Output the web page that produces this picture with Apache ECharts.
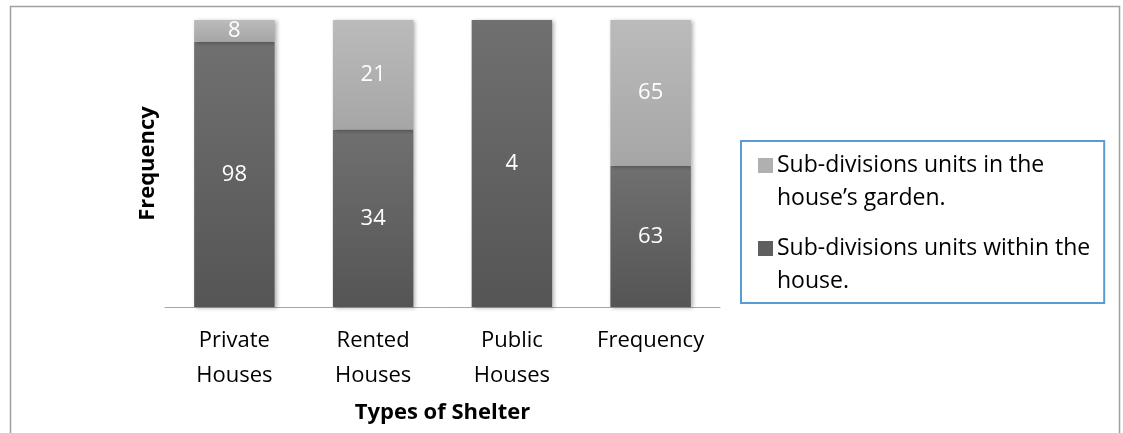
<!DOCTYPE html>
<html>
<head>
<meta charset="utf-8">
<script src="https://cdn.jsdelivr.net/npm/echarts@6/dist/echarts.min.js"></script>
<style>
  html, body { margin: 0; padding: 0; background: #fff; }
  #chart { width: 1123px; height: 433px; }
</style>
</head>
<body>
<div id="chart"></div>
<script>
const categories = ['Private\nHouses', 'Rented\nHouses', 'Public\nHouses', 'Frequency'];
const gardenName = 'Sub-divisions units in the house’s garden.';
const withinName = 'Sub-divisions units within the house.';
const gardenValues = [8, 21, 0, 65];
const withinValues = [98, 34, 4, 63];
const legendLines = {
  [gardenName]: ['Sub-divisions units in the', 'house’s garden.'],
  [withinName]: ['Sub-divisions units within the', 'house.']
};

// 100% stacked: share of each bar
const totals = withinValues.map((v, i) => v + gardenValues[i]);
const withinPct = withinValues.map((v, i) => v / totals[i] * 100);
const gardenPct = gardenValues.map((v, i) => v / totals[i] * 100);

const font = 'Open Sans';
const fs = 22;
const darkFill = new echarts.graphic.LinearGradient(0, 0, 0, 1, [
  { offset: 0, color: '#707070' },
  { offset: 1, color: '#555555' }
]);
const lightFill = new echarts.graphic.LinearGradient(0, 0, 0, 1, [
  { offset: 0, color: '#bbbbbb' },
  { offset: 1, color: '#a6a6a6' }
]);

const chart = echarts.init(document.getElementById('chart'));

const barLabel = raw => ({
  show: true,
  position: 'inside',
  color: '#fff',
  fontFamily: font,
  fontSize: fs,
  formatter: p => raw[p.dataIndex] ? String(raw[p.dataIndex]) : ''
});

const shadow = {
  shadowBlur: 4,
  shadowOffsetX: 2,
  shadowOffsetY: 1,
  shadowColor: 'rgba(0,0,0,0.3)'
};

chart.setOption({
  animation: false,
  textStyle: { fontFamily: font },
  grid: { left: 165, right: 403, top: 20, bottom: 126 },
  graphic: [{
    type: 'polyline',
    shape: { points: [[10.5, 433], [10.5, 6.5], [1119.5, 6.5], [1119.5, 433]] },
    style: { stroke: '#a0a0a0', lineWidth: 1.5, fill: null }
  }],
  legend: {
    orient: 'vertical',
    left: 741,
    top: 141,
    padding: [13, 14, 10, 12],
    itemGap: 27,
    itemWidth: 0,
    itemHeight: 15,
    borderColor: '#5b9bd5',
    borderWidth: 2,
    data: [gardenName, withinName],
    formatter: name => {
      const l = legendLines[name];
      const sq = name === gardenName ? 'sqL' : 'sqD';
      return '{' + sq + '|}{t|' + l[0] + '}\n{ind|}{t|' + l[1] + '}';
    },
    textStyle: {
      rich: {
        sqL: { width: 15, height: 15, backgroundColor: '#b0b0b0', verticalAlign: 'middle' },
        sqD: { width: 15, height: 15, backgroundColor: '#5f5f5f', verticalAlign: 'middle' },
        ind: { width: 15, height: 15 },
        t: { fontFamily: font, fontSize: 23, lineHeight: 33, color: '#000', padding: [0, 0, 0, 4] }
      }
    }
  },
  xAxis: {
    type: 'category',
    data: categories,
    name: 'Types of Shelter',
    nameLocation: 'middle',
    nameGap: 95,
    nameTextStyle: { fontFamily: font, fontSize: fs, fontWeight: 'bold', color: '#000' },
    axisLine: { lineStyle: { color: '#a6a6a6', width: 1 } },
    axisTick: { show: false },
    axisLabel: { interval: 0, color: '#000', fontFamily: font, fontSize: fs, lineHeight: 35, margin: 16 }
  },
  yAxis: {
    type: 'value',
    min: 0,
    max: 100,
    name: 'Frequency',
    nameLocation: 'middle',
    nameGap: 6,
    nameTextStyle: { fontFamily: font, fontSize: fs, fontWeight: 'bold', color: '#000' },
    axisLine: { show: false },
    axisTick: { show: false },
    axisLabel: { show: false },
    splitLine: { show: false }
  },
  series: [
    {
      name: withinName,
      type: 'bar',
      stack: 'total',
      barWidth: '58%',
      data: withinPct,
      itemStyle: Object.assign({ color: darkFill }, shadow),
      label: barLabel(withinValues)
    },
    {
      name: gardenName,
      type: 'bar',
      stack: 'total',
      data: gardenPct,
      itemStyle: Object.assign({ color: lightFill }, shadow),
      label: barLabel(gardenValues)
    }
  ]
});
</script>
</body>
</html>
